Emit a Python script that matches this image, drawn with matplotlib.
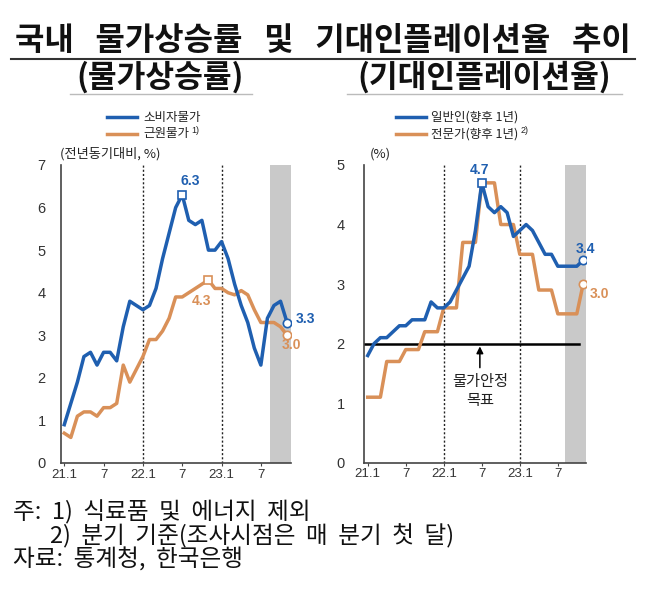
import matplotlib.pyplot as plt
from matplotlib.lines import Line2D
import numpy as np

W, H = 647, 609

BLUE = '#1f5fb0'
ORANGE = '#d99058'
GRAY_BAND = '#c9c9c9'
AXIS_COLOR = '#444444'

KR_FONT = ['Noto Sans CJK KR', 'DejaVu Sans']
NUM_FONT = ['Liberation Sans', 'DejaVu Sans']

plt.rcParams['font.family'] = KR_FONT

# months 21.1 .. 23.11
cpi = [0.9, 1.4, 1.9, 2.5, 2.6, 2.3, 2.6, 2.6, 2.4, 3.2, 3.8, 3.7,
       3.6, 3.7, 4.1, 4.8, 5.4, 6.0, 6.3, 5.7, 5.6, 5.7, 5.0, 5.0,
       5.2, 4.8, 4.2, 3.7, 3.3, 2.7, 2.3, 3.4, 3.7, 3.8, 3.3]
core_cpi = [0.7, 0.6, 1.1, 1.2, 1.2, 1.1, 1.3, 1.3, 1.4, 2.3, 1.9, 2.2,
            2.5, 2.9, 2.9, 3.1, 3.4, 3.9, 3.9, 4.0, 4.1, 4.2, 4.3, 4.1,
            4.1, 4.0, 3.95, 4.05, 3.95, 3.6, 3.3, 3.3, 3.3, 3.2, 3.0]
public_expect = [1.8, 2.0, 2.1, 2.1, 2.2, 2.3, 2.3, 2.4, 2.4, 2.4, 2.7, 2.6,
                 2.6, 2.7, 2.9, 3.1, 3.3, 3.9, 4.7, 4.3, 4.2, 4.3, 4.2, 3.8,
                 3.9, 4.0, 3.9, 3.7, 3.5, 3.5, 3.3, 3.3, 3.3, 3.3, 3.4]
expert_expect = [1.1, 1.1, 1.1, 1.7, 1.7, 1.7, 1.9, 1.9, 1.9, 2.2, 2.2, 2.2,
                 2.6, 2.6, 2.6, 3.7, 3.7, 3.7, 4.7, 4.7, 4.7, 4.0, 4.0, 4.0,
                 3.5, 3.5, 3.5, 2.9, 2.9, 2.9, 2.5, 2.5, 2.5, 2.5, 3.0]

tick_positions = [0, 6, 12, 18, 24, 30]
tick_labels = ['21.1', '7', '22.1', '7', '23.1', '7']
year_lines = [12, 24]


def fx(px):
    return px / W


def fy(py):
    return 1 - py / H


def axes_from_pixels(fig, left, top, right, bottom):
    return fig.add_axes([fx(left), fy(bottom), (right - left) / W, (bottom - top) / H])


def style_axes(ax, y_max, y_pad):
    for side in ['top', 'right']:
        ax.spines[side].set_visible(False)
    for side in ['left', 'bottom']:
        ax.spines[side].set_color(AXIS_COLOR)
        ax.spines[side].set_linewidth(1.2)
    ax.set_ylim(0, y_max)
    ax.set_yticks(range(0, y_max + 1))
    ax.set_xticks(tick_positions)
    ax.set_xticklabels(tick_labels)
    ax.tick_params(axis='y', length=0, pad=y_pad, labelsize=10.5, labelcolor='#333333')
    ax.tick_params(axis='x', length=2, pad=2, labelsize=9.5, labelcolor='#333333', color=AXIS_COLOR)
    for label in ax.get_xticklabels() + ax.get_yticklabels():
        label.set_fontfamily(NUM_FONT)
    for x in year_lines:
        ax.axvline(x, color='#222222', lw=1.0, ls=(0, (1.5, 1.5)), zorder=1)


def value_label(ax, x, y, text, color, ha='center'):
    ax.text(x, y, text, color=color, ha=ha, va='center', fontsize=10,
            fontweight='bold', fontfamily=NUM_FONT)


def legend_entry(fig, x_line, x_text, y, color, text, note=None):
    fig.add_artist(Line2D([fx(x_line), fx(x_line + 30)], [fy(y), fy(y)], color=color, lw=2.5))
    label = fig.text(fx(x_text), fy(y), text, ha='left', va='center', fontsize=9, color='#222222')
    if note:
        plt.annotate(note, xy=(1, 0.75), xycoords=label, xytext=(2, 0), textcoords='offset points',
                     ha='left', va='center', fontsize=6.5, fontfamily=NUM_FONT, color='#222222')


fig = plt.figure(figsize=(W / 100, H / 100), dpi=100)
months = np.arange(len(cpi))

# left panel: inflation
ax1 = axes_from_pixels(fig, 61, 165, 291, 463)
ax1.set_xlim(-0.5, 34.6)
ax1.axvspan(31.4, 34.6, color=GRAY_BAND, lw=0, zorder=0)
style_axes(ax1, 7, 11)
ax1.plot(months, cpi, color=BLUE, lw=2.5, zorder=3, solid_joinstyle='round')
ax1.plot(months, core_cpi, color=ORANGE, lw=2.5, zorder=2, solid_joinstyle='round')

peak = int(np.argmax(cpi))
core_peak = int(np.argmax(core_cpi))
last = len(cpi) - 1
ax1.plot(peak, cpi[peak], 's', ms=6, mfc='white', mec=BLUE, mew=1.2, zorder=4)
ax1.plot(core_peak, core_cpi[core_peak], 's', ms=6, mfc='white', mec=ORANGE, mew=1.2, zorder=4)
ax1.plot(last, cpi[last], 'o', ms=6, mfc='white', mec=BLUE, mew=1.2, zorder=4)
ax1.plot(last, core_cpi[last], 'o', ms=6, mfc='white', mec=ORANGE, mew=1.2, zorder=4)
value_label(ax1, peak + 1.3, cpi[peak] + 0.32, f'{cpi[peak]:.1f}', BLUE)
value_label(ax1, core_peak - 1.1, core_cpi[core_peak] - 0.5, f'{core_cpi[core_peak]:.1f}', ORANGE)
value_label(ax1, last + 1.3, cpi[last] + 0.08, f'{cpi[last]:.1f}', BLUE, ha='left')
value_label(ax1, last + 0.7, core_cpi[last] - 0.22, f'{core_cpi[last]:.1f}', ORANGE)

# right panel: expected inflation
ax2 = axes_from_pixels(fig, 364.3, 165, 586, 462.7)
ax2.set_xlim(-0.54, 34.45)
ax2.axvspan(31.1, 34.45, color=GRAY_BAND, lw=0, zorder=0)
style_axes(ax2, 5, 14)
ax2.plot([-0.54, 33.3], [2, 2], color='black', lw=1.8, zorder=2)
ax2.plot(months, expert_expect, color=ORANGE, lw=2.5, zorder=2, solid_joinstyle='round')
ax2.plot(months, public_expect, color=BLUE, lw=2.5, zorder=3, solid_joinstyle='round')

exp_peak = int(np.argmax(public_expect))
ax2.plot(exp_peak, public_expect[exp_peak], 's', ms=6, mfc='white', mec=BLUE, mew=1.2, zorder=4)
ax2.plot(last, public_expect[last], 'o', ms=6, mfc='white', mec=BLUE, mew=1.2, zorder=4)
ax2.plot(last, expert_expect[last], 'o', ms=6, mfc='white', mec=ORANGE, mew=1.2, zorder=4)
value_label(ax2, exp_peak - 0.3, public_expect[exp_peak] + 0.22, f'{public_expect[exp_peak]:.1f}', BLUE)
value_label(ax2, last + 0.3, public_expect[last] + 0.19, f'{public_expect[last]:.1f}', BLUE)
value_label(ax2, last + 2.6, expert_expect[last] - 0.17, f'{expert_expect[last]:.1f}', ORANGE)

ax2.annotate('', xy=(35.1, 3.94), xytext=(31.4, 3.54),
             arrowprops=dict(arrowstyle='-|>', color='black', lw=1.1, mutation_scale=11))
ax2.annotate('', xy=(17.7, 2.0), xytext=(17.7, 1.55),
             arrowprops=dict(arrowstyle='-|>', color='black', lw=1.1, mutation_scale=10))
ax2.text(17.7, 1.2, '물가안정\n목표', ha='center', va='center', fontsize=11,
         linespacing=1.15, color='#222222')

# titles
fig.text(fx(323), fy(41), '국내   물가상승률   및   기대인플레이션율   추이', ha='center', va='center',
         fontsize=23, fontweight='bold', color='#111111')
fig.add_artist(Line2D([fx(11), fx(635)], [fy(58.5), fy(58.5)], color='#333333', lw=1.5))
fig.text(fx(160), fy(77), '(물가상승률)', ha='center', va='center', fontsize=22.5,
         fontweight='bold', color='#111111')
fig.text(fx(484.5), fy(77), '(기대인플레이션율)', ha='center', va='center', fontsize=22.5,
         fontweight='bold', color='#111111')
fig.add_artist(Line2D([fx(70), fx(252)], [fy(93.5), fy(93.5)], color='#bbbbbb', lw=1.0))
fig.add_artist(Line2D([fx(347), fx(622)], [fy(93.5), fy(93.5)], color='#bbbbbb', lw=1.0))

# legends
legend_entry(fig, 107, 143, 117, BLUE, '소비자물가')
legend_entry(fig, 107, 143, 134, ORANGE, '근원물가', '1)')
legend_entry(fig, 396, 431, 117, BLUE, '일반인(향후 1년)')
legend_entry(fig, 396, 431, 134, ORANGE, '전문가(향후 1년)', '2)')
fig.text(fx(60), fy(154), '(전년동기대비, %)', ha='left', va='center', fontsize=9.5, color='#222222')
fig.text(fx(370), fy(154), '(%)', ha='left', va='center', fontsize=9.5, color='#222222')

# footnotes
fig.text(fx(13), fy(512), '주:  1)  식료품  및  에너지  제외', ha='left', va='center', fontsize=17, color='#111111')
fig.text(fx(50), fy(536), '2)  분기  기준(조사시점은  매  분기  첫  달)', ha='left', va='center', fontsize=17, color='#111111')
fig.text(fx(13), fy(560), '자료:  통계청,  한국은행', ha='left', va='center', fontsize=17, color='#111111')

fig.savefig('out.png', dpi=100)
